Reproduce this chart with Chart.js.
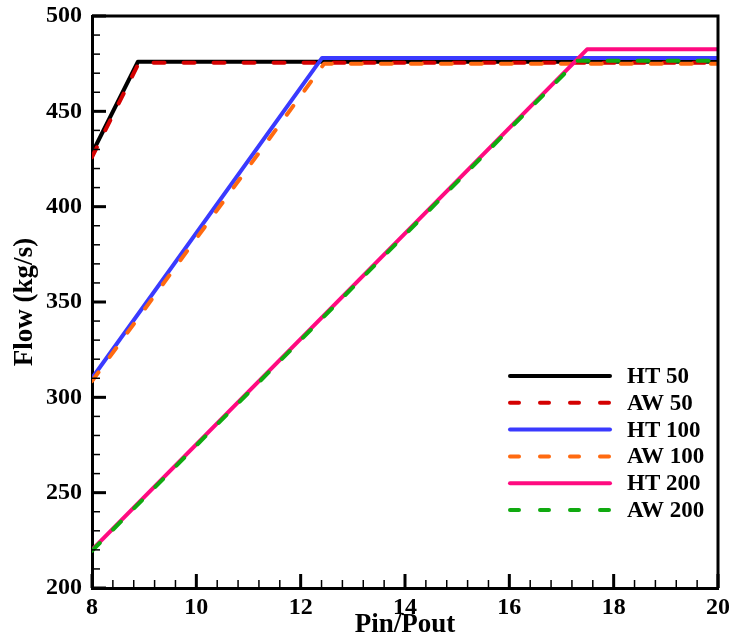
<!DOCTYPE html>
<html>
<head>
<meta charset="utf-8">
<script src="https://cdn.jsdelivr.net/npm/chart.js@4.4.1/dist/chart.umd.min.js"></script>
<style>
    html, body { margin: 0; padding: 0; background: #fff; }
    canvas { display: block; }
</style>
</head>
<body>
<canvas id="flowChart" width="729" height="640"></canvas>
<script>
// Series (Pin/Pout vs Flow in kg/s)
const seriesLabels = ['HT 50', 'AW 50', 'HT 100', 'AW 100', 'HT 200', 'AW 200'];
const ht50X = [8, 8.88, 20];
const ht50Y = [428, 476, 476];
const aw50X = [8, 8.9, 20];
const aw50Y = [426, 475.5, 475.5];
const ht100X = [8, 12.41, 20];
const ht100Y = [310, 478, 478];
const aw100X = [8, 12.45, 20];
const aw100Y = [308.5, 475, 475];
const ht200X = [8, 17.49, 20];
const ht200Y = [220, 482.5, 482.5];
const aw200X = [8, 17.3, 20];
const aw200Y = [219.5, 476.5, 476.5];

const xTicks = [8, 10, 12, 14, 16, 18, 20];
const yTicks = [200, 250, 300, 350, 400, 450, 500];

const FONT = '"Liberation Serif", "Times New Roman", serif';

function toPoints(xs, ys) {
    return xs.map((x, i) => ({ x: x, y: ys[i] }));
}

function makeSet(label, xs, ys, color, dashed, order) {
    return {
        label: label,
        data: toPoints(xs, ys),
        borderColor: color,
        backgroundColor: color,
        borderWidth: 4,
        borderDash: dashed ? [11, 19] : [],
        borderCapStyle: dashed ? 'round' : 'butt',
        borderJoinStyle: 'round',
        pointRadius: 0,
        tension: 0,
        fill: false,
        order: order
    };
}

// no extra room for overflowing edge labels, the frame is fixed by layout padding
function noOverflow(s) {
    s.paddingLeft = 0;
    s.paddingRight = 0;
    s.paddingTop = 0;
    s.paddingBottom = 0;
}

// inward tick marks + top/right frame
const framePlugin = {
    id: 'frame',
    afterDatasetsDraw(chart) {
        const { ctx, chartArea: a, scales } = chart;
        ctx.save();
        ctx.strokeStyle = '#000';
        ctx.lineCap = 'butt';

        ctx.lineWidth = 3;
        ctx.beginPath();
        ctx.moveTo(a.left, a.top);
        ctx.lineTo(a.right, a.top);
        ctx.lineTo(a.right, a.bottom);
        ctx.stroke();

        // x ticks (minor every 0.4)
        for (let i = 0; i <= 30; i++) {
            const v = 8 + i * 0.4;
            const major = i % 5 === 0;
            const px = scales.x.getPixelForValue(v);
            ctx.lineWidth = major ? 3 : 1.5;
            ctx.beginPath();
            ctx.moveTo(px, a.bottom);
            ctx.lineTo(px, a.bottom - (major ? 14 : 8));
            ctx.stroke();
        }
        // y ticks (minor every 10)
        for (let i = 0; i <= 30; i++) {
            const v = 200 + i * 10;
            const major = i % 5 === 0;
            const py = scales.y.getPixelForValue(v);
            ctx.lineWidth = major ? 3 : 1.5;
            ctx.beginPath();
            ctx.moveTo(a.left, py);
            ctx.lineTo(a.left + (major ? 14 : 8), py);
            ctx.stroke();
        }
        ctx.restore();
    }
};

const legendPlugin = {
    id: 'innerLegend',
    afterDraw(chart) {
        const { ctx } = chart;
        const x0 = 508, x1 = 612, tx = 627, y0 = 376, dy = 26.8;
        ctx.save();
        ctx.font = 'bold 23px ' + FONT;
        ctx.textBaseline = 'middle';
        ctx.fillStyle = '#000';
        chart.data.datasets.forEach((ds, i) => {
            const y = y0 + i * dy;
            ctx.strokeStyle = ds.borderColor;
            ctx.lineWidth = ds.borderWidth;
            ctx.lineCap = 'round';
            ctx.setLineDash(ds.borderDash.length ? [9, 21] : []);
            ctx.beginPath();
            ctx.moveTo(x0 + 2, y);
            ctx.lineTo(x1 - 2, y);
            ctx.stroke();
            ctx.setLineDash([]);
            ctx.fillText(ds.label, tx, y + 1);
        });
        ctx.restore();
    }
};

const datasets = [
    makeSet(seriesLabels[0], ht50X, ht50Y, '#000000', false, 6),
    makeSet(seriesLabels[1], aw50X, aw50Y, '#d40000', true, 5),
    makeSet(seriesLabels[2], ht100X, ht100Y, '#3a3aff', false, 4),
    makeSet(seriesLabels[3], aw100X, aw100Y, '#ff6a10', true, 3),
    makeSet(seriesLabels[4], ht200X, ht200Y, '#ff0a80', false, 2),
    makeSet(seriesLabels[5], aw200X, aw200Y, '#10aa10', true, 1)
];

const tickFont = { family: FONT, size: 24, weight: 'bold' };
const titleFont = { family: FONT, size: 27, weight: 'bold' };

new Chart(document.getElementById('flowChart'), {
    type: 'line',
    data: { datasets: datasets },
    options: {
        responsive: false,
        animation: false,
        layout: { padding: { top: 16, right: 11, left: 0, bottom: 0 } },
        plugins: {
            legend: { display: false },
            tooltip: { enabled: false }
        },
        scales: {
            x: {
                type: 'linear',
                min: 8,
                max: 20,
                afterBuildTicks: s => { s.ticks = xTicks.map(v => ({ value: v })); },
                afterFit: s => { s.height = 52; noOverflow(s); },
                ticks: { font: tickFont, color: '#000', padding: 5, maxRotation: 0 },
                grid: { display: false, drawTicks: false },
                border: { display: true, color: '#000', width: 3 },
                title: { display: true, text: 'Pin/Pout', font: titleFont, color: '#000', padding: { top: 0, bottom: -1 } }
            },
            y: {
                type: 'linear',
                min: 200,
                max: 500,
                afterBuildTicks: s => { s.ticks = yTicks.map(v => ({ value: v })); },
                afterFit: s => { s.width = 92; noOverflow(s); },
                ticks: { font: tickFont, color: '#000', padding: 10 },
                grid: { display: false, drawTicks: false },
                border: { display: true, color: '#000', width: 3 },
                title: { display: true, text: 'Flow (kg/s)', font: titleFont, color: '#000', padding: { top: 9, bottom: 0 } }
            }
        }
    },
    plugins: [framePlugin, legendPlugin]
});
</script>
</body>
</html>
